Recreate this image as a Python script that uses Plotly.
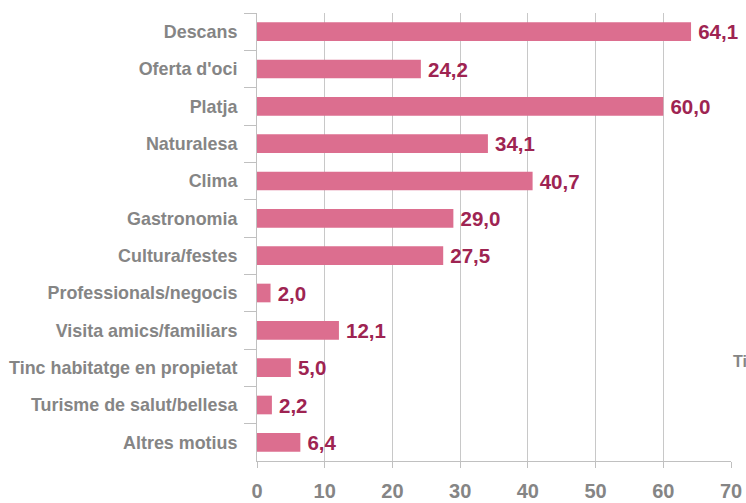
import plotly.graph_objects as go

categories = ["Descans", "Oferta d'oci", "Platja", "Naturalesa", "Clima", "Gastronomia",
              "Cultura/festes", "Professionals/negocis", "Visita amics/familiars",
              "Tinc habitatge en propietat", "Turisme de salut/bellesa", "Altres motius"]
values = [64.1, 24.2, 60.0, 34.1, 40.7, 29.0, 27.5, 2.0, 12.1, 5.0, 2.2, 6.4]
x_ticks = [0, 10, 20, 30, 40, 50, 60, 70]

grey = "#858585"
fig = go.Figure()
fig.add_trace(go.Bar(
    x=values, y=categories, orientation="h",
    marker=dict(color="#DC6E8F", line=dict(width=0)),
    text=["\u2009" + f"{v:.1f}".replace(".", ",") for v in values],
    textposition="outside", constraintext="none", cliponaxis=False,
    textfont=dict(family="Liberation Sans", size=20.5, color="#9E2452", weight="bold"),
    hoverinfo="skip",
))
fig.update_layout(
    width=746, height=503,
    margin=dict(l=257, r=15, t=13, b=42),
    paper_bgcolor="white", plot_bgcolor="white",
    bargap=0.5, showlegend=False,
    font=dict(family="Liberation Sans", color=grey),
)
fig.update_xaxes(
    range=[0, 70], tickvals=x_ticks, ticktext=[str(t) for t in x_ticks],
    showgrid=True, gridcolor="#c8c8c8", gridwidth=1,
    showline=True, linecolor="#c0c0c0", linewidth=1,
    ticks="outside", ticklen=6, tickcolor="#c0c0c0", ticklabelstandoff=6,
    tickfont=dict(family="Liberation Sans", size=20, color=grey, weight="bold"),
    zeroline=False, fixedrange=True, automargin=False,
)
fig.update_yaxes(
    categoryorder="array", categoryarray=categories, autorange="reversed",
    showline=True, linecolor="#c0c0c0", linewidth=1,
    ticks="outside", ticklen=12, tickcolor="#c0c0c0", tickson="boundaries",
    ticklabelstandoff=15,
    tickfont=dict(family="Liberation Sans", size=17.9, color=grey, weight="bold"),
    showgrid=False, zeroline=False, fixedrange=True, automargin=False,
)
fig.add_annotation(
    text="Ti", xref="paper", yref="paper", x=1.0, y=0.222, xanchor="left", yanchor="middle",
    xshift=0, showarrow=False,
    font=dict(family="Liberation Sans", size=16, color=grey, weight="bold"),
)
fig.write_html("out.html", config={"displayModeBar": False},
               post_script="document.body.style.margin='0';")
